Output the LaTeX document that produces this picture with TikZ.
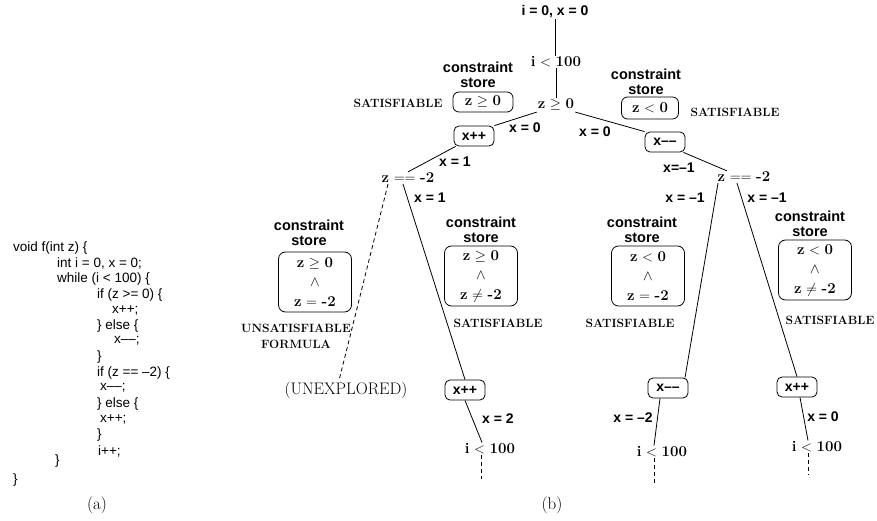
\documentclass[tikz,border=0pt]{standalone}
\usepackage{fontspec}
\newfontfamily\hv{Liberation Sans}
\tikzset{
  sans/.style={font=\hv\bfseries\fontsize{14}{15}\selectfont, inner sep=1pt},
  code/.style={font=\hv\fontsize{13.5}{15}\selectfont, anchor=west, inner sep=0pt},
  ser/.style={font=\fontsize{15}{17}\selectfont, inner sep=1pt},
  satlab/.style={font=\bfseries\fontsize{12}{16}\selectfont, inner sep=0pt, align=center},
  cs/.style={font=\hv\bfseries\fontsize{14.5}{15}\selectfont, align=center, inner sep=0pt},
  opbox/.style={draw, rounded corners=5pt, font=\hv\bfseries\fontsize{14}{15}\selectfont, minimum width=40pt, minimum height=20pt, inner sep=0pt, line width=0.8pt},
  storebox/.style={draw, rounded corners=7pt, font=\fontsize{15}{19.5}\selectfont, align=center, inner sep=0pt, line width=0.8pt, minimum width=73pt, minimum height=60pt},
  smallstore/.style={draw, rounded corners=6pt, font=\fontsize{15}{17}\selectfont, inner sep=0pt, line width=0.8pt},
  edge/.style={line width=0.8pt},
  dedge/.style={line width=0.8pt, dash pattern=on 4pt off 3pt},
  captxt/.style={font=\fontsize{17}{19}\selectfont, inner sep=0pt}
}
\begin{document}
\begin{tikzpicture}[x=1pt,y=-1pt]
\useasboundingbox (0,0) rectangle (877,521);
% ---- code (a)
\node[code] (c1) at (13,248) {void f(int z) \{};
\node[code] (c2) at (57,263) {int i = 0, x = 0;};
\node[code] (c3) at (57,279) {while (i < 100) \{};
\node[code] (c4) at (97,295) {if (z >= 0) \{};
\node[code] (c5) at (112,310) {x++;};
\node[code] (c6) at (97,326) {\} else \{};
\node[code] (c7) at (114,341) {x––;};
\node[code] (c8) at (97,357) {\}};
\node[code] (c9) at (97,373) {if (z == –2) \{};
\node[code] (c10) at (100,388) {x––;};
\node[code] (c11) at (97,404) {\} else \{};
\node[code] (c12) at (100,419) {x++;};
\node[code] (c13) at (97,435) {\}};
\node[code] (c14) at (98,451) {i++;};
\node[code] (c15) at (55,461) {\}};
\node[code] (c16) at (13,480) {\}};
\node[captxt] (capa) at (97,505) {(a)};
\node[captxt] (capb) at (552,505) {(b)};
% ---- tree (b)
\node[sans] (A) at (555,12) {i = 0, x = 0};
\node[ser] (B) at (556,62) {\textbf{i} $<$ \textbf{100}};
\node[ser] (C) at (556,105) {\textbf{z} $\geq$ \textbf{0}};
\node[cs] (LCS) at (478,75) {constraint\\store};
\node[smallstore, minimum width=60pt, minimum height=20pt] (LB) at (483,102) {\textbf{z} $\geq$ \textbf{0}};
\node[satlab] (S1) at (398,103) {SATISFIABLE};
\node[opbox] (D) at (474,136) {x++};
\node[sans] (D0) at (525,128) {x = 0};
\node[ser] (E) at (408,178) {\textbf{z} $==$ \textbf{-2}};
\node[sans] (E1) at (455,162) {x = 1};
\node[cs] (RCS) at (646,82) {constraint\\store};
\node[smallstore, minimum width=57pt, minimum height=22pt] (RB) at (650,108) {\textbf{z} $<$ \textbf{0}};
\node[satlab] (S2) at (735,112) {SATISFIABLE};
\node[opbox] (F) at (665,142) {x––};
\node[sans] (F0) at (595,132) {x = 0};
\node[ser] (G) at (744,177) {\textbf{z} $==$ \textbf{-2}};
\node[sans] (G1) at (679,168) {x=–1};
% lower left
\node[cs] (LLCS) at (309,233) {constraint\\store};
\node[storebox] (LLB) at (315,282) {\textbf{z} $\geq$ \textbf{0}\\$\wedge$\\\textbf{z} $=$ \textbf{-2}};
\node[satlab] (U) at (296,336) {UNSATISFIABLE\\FORMULA};
\node[ser, font=\fontsize{16.7}{18}\selectfont] (UNX) at (346,390) {(UNEXPLORED)};
\node[sans] (E2) at (430,198) {x = 1};
\node[cs] (LRCS) at (481,230) {constraint\\store};
\node[storebox] (LRB) at (481,276) {\textbf{z} $\geq$ \textbf{0}\\$\wedge$\\\textbf{z} $\neq$ \textbf{-2}};
\node[satlab] (S3) at (498,323) {SATISFIABLE};
\node[opbox] (H) at (465,390) {x++};
\node[sans] (H2) at (498,419) {x = 2};
\node[ser] (I) at (490,449) {\textbf{i} $<$ \textbf{100}};
% lower right
\node[sans] (G2) at (685,198) {x = –1};
\node[sans] (G3) at (767,198) {x = –1};
\node[cs] (RLCS) at (642,230) {constraint\\store};
\node[storebox] (RLB) at (648,276) {\textbf{z} $<$ \textbf{0}\\$\wedge$\\\textbf{z} $=$ \textbf{-2}};
\node[satlab] (S4) at (630,323) {SATISFIABLE};
\node[opbox] (J) at (668,388) {x––};
\node[sans] (J2) at (633,418) {x = –2};
\node[ser] (K) at (662,452) {\textbf{i} $<$ \textbf{100}};
\node[cs] (RRCS) at (810,224) {constraint\\store};
\node[storebox] (RRB) at (815,270) {\textbf{z} $<$ \textbf{0}\\$\wedge$\\\textbf{z} $\neq$ \textbf{-2}};
\node[satlab] (S5) at (830,320) {SATISFIABLE};
\node[opbox] (L) at (797,387) {x++};
\node[sans] (L2) at (823,417) {x = 0};
\node[ser] (M) at (817,447) {\textbf{i} $<$ \textbf{100}};
% free ends
\coordinate (Iend) at (481,479);
\coordinate (Kend) at (654,484);
\coordinate (Mend) at (808,475);
% edges
\draw[edge] (A) -- (A |- B.north);
\draw[edge] (B) -- (B |- C.north);
\draw[edge] (C.south west) -- (D.north east);
\draw[edge] ([xshift=2pt]D.south west) -- (E.north);
\draw[edge] (C.south east) -- (F.north west);
\draw[edge] ([xshift=-2pt]F.south east) -- ([xshift=-17pt]G.north);
\draw[dedge] ([xshift=-20pt]E.south) -- ([xshift=-7pt]UNX.north);
\draw[edge] ([xshift=-5pt]E.south) -- (H.north);
\draw[edge] (H.south) -- ([xshift=-8pt]I.north);
\draw[dedge] ([xshift=-9pt]I.south) -- (Iend);
\draw[edge] ([xshift=-26pt]G.south) -- ([xshift=17pt]J.north);
\draw[edge] ([xshift=-7pt]G.south) -- (L.north);
\draw[edge] ([xshift=-8pt]J.south) -- ([xshift=-8pt]K.north);
\draw[dedge] ([xshift=-8pt]K.south) -- (Kend);
\draw[edge] ([xshift=3pt]L.south) -- ([xshift=-9pt]M.north);
\draw[dedge] ([xshift=-9pt]M.south) -- (Mend);
\end{tikzpicture}
\end{document}
